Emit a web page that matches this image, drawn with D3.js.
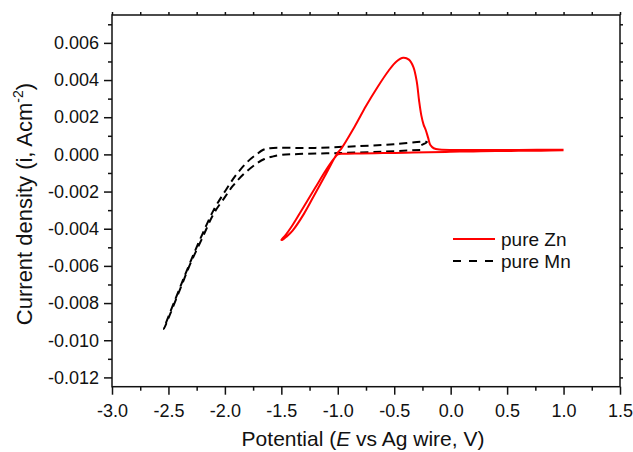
<!DOCTYPE html>
<html>
<head>
<meta charset="utf-8">
<script src="https://cdn.jsdelivr.net/npm/d3@7"></script>
<style>
  body { margin: 0; background: #fff; }
  text { font-family: "Liberation Sans", Arial, sans-serif; fill: #111; }
</style>
</head>
<body>
<div id="chart"></div>
<script>
// pure Zn cyclic voltammogram (potential V, current A/cm2)
const znE = [1.0, 0.8, 0.6, 0.4, 0.2, 0.0, -0.2, -0.4, -0.6, -0.8, -0.95, -1.0, -1.03, -1.1, -1.2, -1.3, -1.4, -1.47, -1.5,
  -1.49, -1.45, -1.4, -1.3, -1.2, -1.1, -1.0, -0.97, -0.85, -0.75, -0.65, -0.55, -0.48, -0.42, -0.37, -0.33, -0.30, -0.28,
  -0.26, -0.24, -0.22, -0.2, -0.18, -0.15, -0.1, 0.2, 0.6, 1.0];
const znI = [0.00022, 0.0002, 0.00019, 0.00018, 0.00016, 0.00014, 0.00011, 0.00009, 0.00007, 0.00005, 0.00003, 0.0, -0.0002,
  -0.0008, -0.0018, -0.0028, -0.0038, -0.0044, -0.0046,
  -0.0046, -0.0044, -0.0041, -0.0032, -0.0021, -0.0010, 0.0001, 0.0003, 0.0015, 0.0026, 0.0036, 0.0045, 0.0050, 0.0052,
  0.0051, 0.0047, 0.0039, 0.0029, 0.0021, 0.0016, 0.0013, 0.0009, 0.0005, 0.00033, 0.00026, 0.00024, 0.00024, 0.00025];

// pure Mn
const mnE = [-0.27, -0.6, -1.0, -1.35, -1.5, -1.58, -1.65, -1.72, -1.84, -1.93, -2.0, -2.1, -2.2, -2.3, -2.4, -2.54,
  -2.53, -2.4, -2.3, -2.2, -2.1, -2.0, -1.9, -1.8, -1.72, -1.66, -1.6, -1.2, -0.8, -0.5, -0.24, -0.21, -0.26];
const mnI = [0.00024, 0.00015, 0.00007, 0.00002, -0.00003, -0.00012, -0.00025, -0.0005, -0.0011, -0.0017, -0.0023, -0.0032,
  -0.0045, -0.0058, -0.0073, -0.0094,
  -0.0092, -0.0072, -0.0057, -0.0043, -0.0030, -0.0020, -0.0011, -0.0004, 0.0000, 0.00025, 0.00033, 0.00035, 0.00045,
  0.00055, 0.00068, 0.00066, 0.00050];

const xMajor = [-3.0, -2.5, -2.0, -1.5, -1.0, -0.5, 0.0, 0.5, 1.0, 1.5];
const xMinor = [-2.75, -2.25, -1.75, -1.25, -0.75, -0.25, 0.25, 0.75, 1.25];
const yMajor = [-0.012, -0.010, -0.008, -0.006, -0.004, -0.002, 0.000, 0.002, 0.004, 0.006];
const yMinor = [-0.011, -0.009, -0.007, -0.005, -0.003, -0.001, 0.001, 0.003, 0.005, 0.007];

const seriesNames = ["pure Zn", "pure Mn"];

const width = 633, height = 452;
const margin = { top: 15, right: 13, bottom: 65.3, left: 112 };

const svg = d3.select("#chart").append("svg")
  .attr("width", width)
  .attr("height", height);

const x = d3.scaleLinear().domain([-3, 1.5]).range([margin.left, width - margin.right]);
const y = d3.scaleLinear().domain([-0.0125, 0.0075]).range([height - margin.bottom, margin.top]);

const fmt = f => v => d3.format(f)(v).replace("\u2212", "-");

function styleAxis(g) {
  g.select(".domain").remove();
  g.selectAll("line").attr("stroke", "#111").attr("stroke-width", 1.5);
  g.selectAll("text").attr("font-size", 18).attr("fill", "#111");
}

// bottom axis
svg.append("g")
  .attr("transform", `translate(0,${y.range()[0]})`)
  .call(d3.axisBottom(x).tickValues(xMinor).tickSize(4).tickFormat(""))
  .call(styleAxis);
svg.append("g")
  .attr("transform", `translate(0,${y.range()[0]})`)
  .call(d3.axisBottom(x).tickValues(xMajor).tickSize(8).tickPadding(9.5).tickFormat(fmt(".1f")))
  .call(styleAxis);

// left axis
svg.append("g")
  .attr("transform", `translate(${x.range()[0]},0)`)
  .call(d3.axisLeft(y).tickValues(yMinor).tickSize(4).tickFormat(""))
  .call(styleAxis);
svg.append("g")
  .attr("transform", `translate(${x.range()[0]},0)`)
  .call(d3.axisLeft(y).tickValues(yMajor).tickSize(8).tickPadding(5).tickFormat(fmt(".3f")))
  .call(styleAxis);

// top and right small ticks
svg.append("g")
  .attr("transform", `translate(0,${y.range()[1]})`)
  .call(d3.axisTop(x).tickValues(xMajor.concat(xMinor)).tickSize(3).tickFormat(""))
  .call(styleAxis);
svg.append("g")
  .attr("transform", `translate(${x.range()[1]},0)`)
  .call(d3.axisRight(y).tickValues(yMajor.concat(yMinor)).tickSize(3).tickFormat(""))
  .call(styleAxis);

// frame
svg.append("rect")
  .attr("x", x.range()[0])
  .attr("y", y.range()[1])
  .attr("width", x.range()[1] - x.range()[0])
  .attr("height", y.range()[0] - y.range()[1])
  .attr("fill", "none")
  .attr("stroke", "#111")
  .attr("stroke-width", 1.5);

const line = d3.line()
  .x(d => x(d[0]))
  .y(d => y(d[1]))
  .curve(d3.curveCatmullRom.alpha(0.5));

svg.append("path")
  .datum(mnE.map((e, i) => [e, mnI[i]]))
  .attr("d", line)
  .attr("fill", "none")
  .attr("stroke", "#000")
  .attr("stroke-width", 2)
  .attr("stroke-dasharray", "8,5");

svg.append("path")
  .datum(znE.map((e, i) => [e, znI[i]]))
  .attr("d", line)
  .attr("fill", "none")
  .attr("stroke", "#ff0000")
  .attr("stroke-width", 2);

// legend
const legend = svg.append("g").attr("transform", "translate(453,239)");
legend.append("line").attr("x1", 0).attr("x2", 42).attr("y1", 0).attr("y2", 0)
  .attr("stroke", "#ff0000").attr("stroke-width", 2);
legend.append("line").attr("x1", 0).attr("x2", 42).attr("y1", 22).attr("y2", 22)
  .attr("stroke", "#000").attr("stroke-width", 2).attr("stroke-dasharray", "8,8");
legend.selectAll("text.lab")
  .data(seriesNames)
  .join("text")
  .attr("class", "lab")
  .attr("x", 48)
  .attr("y", (d, i) => i * 22 + 7)
  .attr("font-size", 19)
  .text(d => d);

// axis titles
const xt = svg.append("text")
  .attr("x", 363)
  .attr("y", 446)
  .attr("text-anchor", "middle")
  .attr("font-size", 21);
xt.append("tspan").text("Potential (");
xt.append("tspan").attr("font-style", "italic").text("E");
xt.append("tspan").text(" vs Ag wire, V)");

const yt = svg.append("text")
  .attr("transform", "translate(32,204) rotate(-90)")
  .attr("text-anchor", "middle")
  .attr("font-size", 22);
yt.append("tspan").text("Current density (i, Acm");
yt.append("tspan").attr("font-size", 14).attr("dy", -9).text("-2");
yt.append("tspan").attr("dy", 9).text(")");
</script>
</body>
</html>
